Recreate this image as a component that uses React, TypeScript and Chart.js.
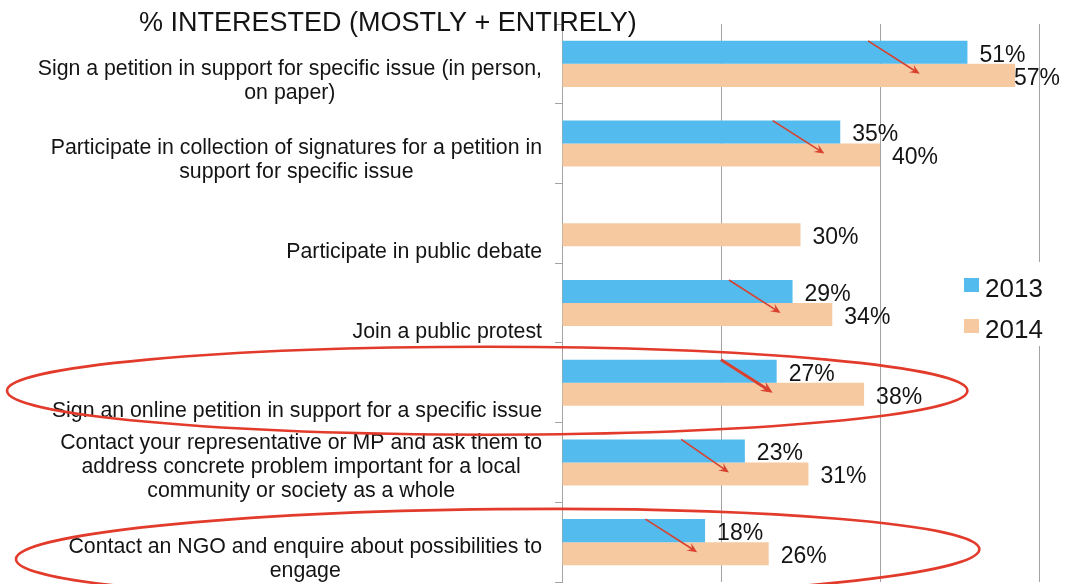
import React, { useEffect, useRef } from "react";
import { Chart, registerables } from "chart.js";

Chart.register(...registerables);

// ---------- data ----------
const chartTitle = "% INTERESTED (MOSTLY + ENTIRELY)";
const categories: string[][] = [
  ["Sign a petition in support for specific issue (in person,", "on paper)"],
  ["Participate in collection of signatures for a petition in", "support for specific issue"],
  ["Participate in public debate"],
  ["Join a public protest"],
  ["Sign an online petition in support for a specific issue"],
  [
    "Contact your representative or MP and ask them to",
    "address concrete problem important for a local",
    "community or society as a whole",
  ],
  ["Contact an NGO and enquire about possibilities to", "engage"],
];
const seriesNames = ["2013", "2014"];
const values2013: (number | null)[] = [51, 35, null, 29, 27, 23, 18];
const values2014: (number | null)[] = [57, 40, 30, 34, 38, 31, 26];
const xTickValues = [0, 20, 40, 60];
// hand-drawn arrow annotations (value-axis positions, per category)
const arrowFrom: (number | null)[] = [38.5, 26.5, null, 21, 20, 15, 10.5];
const arrowTo: (number | null)[] = [45, 33, null, 27.5, 26.5, 21, 17];
// circled categories and how far (in %) the circle reaches
const circledCategories = [4, 6];
const circleReach = [51, 52.5];

// ---------- styles ----------
const FONT = "'Liberation Sans', Arial, Helvetica, sans-serif";
const BLUE = "#53bbed";
const ORANGE = "#f6c9a0";
const GRID = "#a3a3a3";
const TEXT = "#141414";
const RED = "#e23b2b";

const overlayPlugin = {
  id: "overlay",
  afterDatasetsDraw(chart: any) {
    const ctx: CanvasRenderingContext2D = chart.ctx;
    const xs = chart.scales.x;
    const ys = chart.scales.y;
    const area = chart.chartArea;
    const band = ys.height / categories.length;
    ctx.save();

    // value labels (kept inside the canvas)
    ctx.font = `23px ${FONT}`;
    ctx.fillStyle = TEXT;
    ctx.textAlign = "left";
    ctx.textBaseline = "middle";
    chart.data.datasets.forEach((ds: any, di: number) => {
      const meta = chart.getDatasetMeta(di);
      meta.data.forEach((bar: any, i: number) => {
        const v = ds.data[i];
        if (v == null || !isFinite(bar.x)) return;
        const txt = `${v}%`;
        const w = ctx.measureText(txt).width;
        const x = Math.min(bar.x + 12, chart.width - w - 5);
        ctx.fillText(txt, x, bar.y + 3);
      });
    });

    // category labels (block right-aligned, lines centred, bottom-anchored)
    ctx.font = `21.3px ${FONT}`;
    ctx.textAlign = "center";
    ctx.textBaseline = "middle";
    categories.forEach((lines, i) => {
      const bottom = ys.getPixelForValue(i) + band / 2;
      const w = Math.max(...lines.map((l) => ctx.measureText(l).width));
      const cx = area.left - 20 - w / 2;
      lines.forEach((l, j) => {
        ctx.fillText(l, cx, bottom - 11 - (lines.length - 1 - j) * 24);
      });
    });

    // title
    ctx.font = `27px ${FONT}`;
    ctx.textAlign = "left";
    ctx.textBaseline = "alphabetic";
    ctx.fillText(chartTitle, 139, 31);

    // arrows
    ctx.strokeStyle = "#d9412f";
    ctx.fillStyle = "#d9412f";
    arrowFrom.forEach((f, i) => {
      const t = arrowTo[i];
      if (f == null || t == null) return;
      const c = ys.getPixelForValue(i);
      const x1 = xs.getPixelForValue(f);
      const y1 = c - 23;
      const x2 = xs.getPixelForValue(t);
      const y2 = c + 10;
      const a = Math.atan2(y2 - y1, x2 - x1);
      const bold = i === 4;
      ctx.lineWidth = bold ? 3 : 1.6;
      ctx.beginPath();
      ctx.moveTo(x1, y1);
      ctx.lineTo(x2 - 4 * Math.cos(a), y2 - 4 * Math.sin(a));
      ctx.stroke();
      const len = bold ? 13 : 11;
      const sp = 0.42;
      ctx.beginPath();
      ctx.moveTo(x2, y2);
      ctx.lineTo(x2 - len * Math.cos(a - sp), y2 - len * Math.sin(a - sp));
      ctx.lineTo(x2 - len * 0.55 * Math.cos(a), y2 - len * 0.55 * Math.sin(a));
      ctx.lineTo(x2 - len * Math.cos(a + sp), y2 - len * Math.sin(a + sp));
      ctx.closePath();
      ctx.fill();
    });

    // circles around highlighted categories
    const ellipseStyle = [
      { left: 7, dy: 8, ry: 44, rot: 0 },
      { left: 16, dy: 12, ry: 45, rot: -0.0105 },
    ];
    ctx.strokeStyle = RED;
    ctx.lineWidth = 2.6;
    circledCategories.forEach((cat, k) => {
      const s = ellipseStyle[k];
      const right = xs.getPixelForValue(circleReach[k]);
      const cx = (s.left + right) / 2;
      const rx = (right - s.left) / 2;
      const cy = ys.getPixelForValue(cat) + s.dy;
      ctx.beginPath();
      ctx.ellipse(cx, cy, rx, s.ry, s.rot, 0, Math.PI * 2);
      ctx.stroke();
    });

    // legend (inside plot area, on white box)
    const lx = area.right - 75;
    const ly = 262;
    ctx.fillStyle = "#ffffff";
    ctx.fillRect(lx - 9, ly, 105, 84);
    ctx.font = `26px ${FONT}`;
    ctx.textAlign = "left";
    ctx.textBaseline = "alphabetic";
    chart.data.datasets.forEach((ds: any, di: number) => {
      const top = 278 + di * 41;
      ctx.fillStyle = ds.backgroundColor;
      ctx.fillRect(lx, top, 15, 14);
      ctx.fillStyle = TEXT;
      ctx.fillText(ds.label, lx + 21, top + 19);
    });

    ctx.restore();
  },
};

export default function App() {
  const ref = useRef<HTMLCanvasElement>(null);

  useEffect(() => {
    document.body.style.margin = "0";
    const canvas = ref.current;
    if (!canvas) return;
    const chart = new Chart(canvas, {
      type: "bar",
      data: {
        labels: categories.map((c) => c.join(" ")),
        datasets: [
          {
            label: seriesNames[0],
            data: values2013,
            backgroundColor: BLUE,
            borderWidth: 0,
            categoryPercentage: 0.578,
            barPercentage: 1,
          },
          {
            label: seriesNames[1],
            data: values2014,
            backgroundColor: ORANGE,
            borderWidth: 0,
            categoryPercentage: 0.578,
            barPercentage: 1,
          },
        ],
      },
      options: {
        indexAxis: "y",
        responsive: false,
        animation: false,
        devicePixelRatio: 1,
        layout: { padding: { top: 24, right: 26, bottom: 2, left: 0 } },
        plugins: {
          legend: { display: false },
          title: { display: false },
          tooltip: { enabled: false },
        },
        scales: {
          x: {
            min: xTickValues[0],
            max: xTickValues[xTickValues.length - 1],
            afterBuildTicks: (s: any) => {
              s.ticks = xTickValues.map((v) => ({ value: v }));
            },
            ticks: { display: false },
            grid: { color: GRID, lineWidth: 1, drawTicks: false },
            border: { display: false },
          },
          y: {
            afterFit: (s: any) => {
              s.width = 562;
            },
            ticks: { display: false },
            grid: {
              display: true,
              drawOnChartArea: false,
              drawTicks: true,
              tickLength: 7,
              color: GRID,
              offset: true,
            },
            border: { display: true, color: GRID, width: 1 },
          },
        },
      },
      plugins: [overlayPlugin],
    } as any);
    return () => chart.destroy();
  }, []);

  return (
    <div style={{ width: 1065, height: 584, background: "#fff" }}>
      <canvas ref={ref} width={1065} height={584} style={{ display: "block" }} />
    </div>
  );
}
